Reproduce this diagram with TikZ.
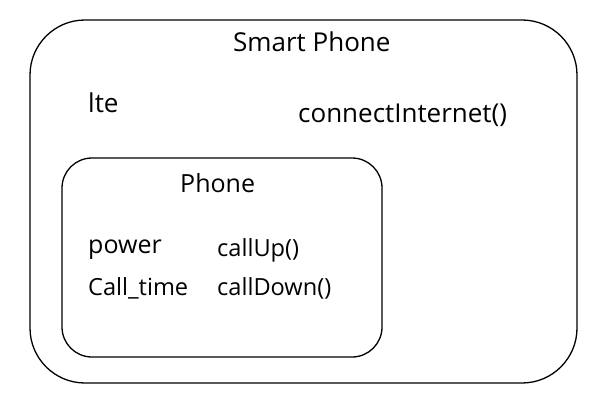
\documentclass[tikz,border=0pt]{standalone}
\usepackage{fontspec}
\setmainfont{Open Sans}
\begin{document}
\begin{tikzpicture}[x=1pt,y=-1pt,
  box/.style={draw=black,line width=1.3pt},
  txt/.style={inner sep=0pt,anchor=base west},
  big/.style={txt,font=\fontsize{26}{30}\selectfont},
  med/.style={txt,font=\fontsize{25}{29}\selectfont},
  sml/.style={txt,font=\fontsize{23.6}{27}\selectfont}]
\useasboundingbox (0,0) rectangle (599,409);
\draw[box,rounded corners=55pt] (30,20) rectangle (577,383);
\draw[box,rounded corners=30pt] (62,158) rectangle (382,357);
\node[big] (sp) at (233,52) {Smart Phone};
\node[big] (lte) at (88,113) {lte};
\node[big] (ci) at (298,122) {connectInternet()};
\node[med] (ph) at (180,192) {Phone};
\node[med] (pw) at (88,253) {power};
\node[sml] (cu) at (217,256) {callUp()};
\node[sml] (ct) at (88,295) {Call\_time};
\node[sml] (cd) at (217,295) {callDown()};
\end{tikzpicture}
\end{document}
